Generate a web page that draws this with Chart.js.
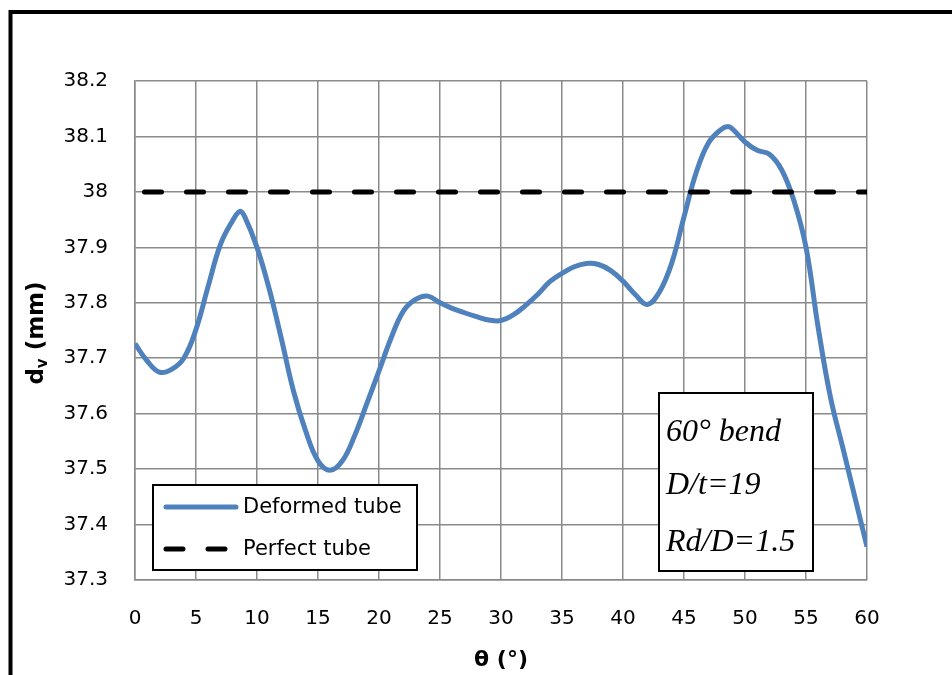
<!DOCTYPE html>
<html>
<head>
<meta charset="utf-8">
<script src="https://cdn.jsdelivr.net/npm/chart.js@4.4.1/dist/chart.umd.min.js"></script>
<style>
  body { margin: 0; background: #fff; }
  canvas { display: block; }
</style>
</head>
<body>
<canvas id="dvChart" width="952" height="675"></canvas>
<script>
// values, about one per degree
const thetaDeg = [0, 1, 2, 3, 4, 5, 6, 7, 8, 8.6, 9, 10, 11, 12, 13, 14, 15, 16, 17, 18, 19, 20,
    21, 22, 23, 24, 25, 26, 27, 28, 29, 30, 31, 32, 33, 34, 35, 36, 37, 38, 39, 40,
    41, 42, 43, 44, 45, 46, 47, 48, 48.6, 49, 50, 51, 52, 53, 54, 55, 56, 57, 58, 59, 60];
const deformedDv = [37.726, 37.695, 37.675, 37.68, 37.70, 37.752, 37.83, 37.905, 37.948, 37.965, 37.955, 37.90, 37.825, 37.735, 37.64, 37.568, 37.515, 37.498, 37.515, 37.56, 37.618, 37.677,
    37.737, 37.785, 37.806, 37.812, 37.80, 37.79, 37.782, 37.775, 37.769, 37.768, 37.778, 37.795, 37.815, 37.838, 37.853, 37.865, 37.871, 37.869, 37.858, 37.839,
    37.815, 37.797, 37.82, 37.872, 37.955, 38.035, 38.088, 38.112, 38.118, 38.113, 38.09, 38.075, 38.068, 38.04, 37.985, 37.90, 37.755, 37.63, 37.54, 37.45, 37.36];
const perfectTheta = [0, 60];
const perfectDv = [38, 38];
const xTicks = [0, 5, 10, 15, 20, 25, 30, 35, 40, 45, 50, 55, 60];
const yTicks = [37.3, 37.4, 37.5, 37.6, 37.7, 37.8, 37.9, 38, 38.1, 38.2];
const seriesNames = ['Deformed tube', 'Perfect tube'];
const noteLines = ['60\u00B0 bend', 'D/t=19', 'Rd/D=1.5'];

const toPoints = (xs, ys) => xs.map((x, i) => ({ x: x, y: ys[i] }));

const gridGrey = '#8a8a8a';

// frame, y title with subscript, legend and note box
const extrasPlugin = {
    id: 'extras',
    afterDraw: (chart) => {
        const ctx = chart.ctx;
        ctx.save();
        // outer frame (runs off the right and bottom)
        ctx.strokeStyle = '#000';
        ctx.lineWidth = 4;
        ctx.strokeRect(10.5, 12, 1000, 700);

        // y axis title: d_v (mm)
        ctx.save();
        ctx.translate(43, 333);
        ctx.rotate(-Math.PI / 2);
        ctx.fillStyle = '#000';
        ctx.textBaseline = 'alphabetic';
        const big = 'bold 23px "DejaVu Sans"';
        const small = 'bold 15px "DejaVu Sans"';
        ctx.font = big;
        const wD = ctx.measureText('d').width;
        const wRest = ctx.measureText(' (mm)').width;
        ctx.font = small;
        const wV = ctx.measureText('v').width;
        let tx = -(wD + wV + wRest) / 2;
        ctx.font = big;
        ctx.fillText('d', tx, 0);
        tx += wD;
        ctx.font = small;
        ctx.fillText('v', tx, 4);
        tx += wV;
        ctx.font = big;
        ctx.fillText(' (mm)', tx, 0);
        ctx.restore();

        // legend box
        ctx.fillStyle = '#fff';
        ctx.fillRect(153, 485, 264, 85);
        ctx.lineWidth = 2;
        ctx.strokeStyle = '#000';
        ctx.strokeRect(153, 485, 264, 85);
        const rows = [507, 549];
        chart.data.datasets.forEach((ds, i) => {
            ctx.save();
            ctx.strokeStyle = ds.borderColor;
            ctx.lineWidth = ds.borderWidth;
            ctx.lineCap = 'round';
            ctx.setLineDash(ds.borderDash || []);
            ctx.beginPath();
            ctx.moveTo(166, rows[i]);
            ctx.lineTo(236, rows[i]);
            ctx.stroke();
            ctx.restore();
            ctx.fillStyle = '#000';
            ctx.font = '21px "DejaVu Sans"';
            ctx.textBaseline = 'middle';
            ctx.fillText(ds.label, 243, rows[i] + 1);
        });

        // note box
        ctx.fillStyle = '#fff';
        ctx.fillRect(659, 393, 154, 178);
        ctx.strokeStyle = '#000';
        ctx.lineWidth = 2;
        ctx.strokeRect(659, 393, 154, 178);
        ctx.fillStyle = '#000';
        ctx.font = 'italic 32px "Liberation Serif"';
        ctx.textBaseline = 'alphabetic';
        const baselines = [441, 494, 551];
        noteLines.forEach((t, i) => ctx.fillText(t, 666, baselines[i]));
        ctx.restore();
    }
};

const ctx = document.getElementById('dvChart');
const chart = new Chart(ctx, {
    type: 'line',
    data: {
        datasets: [{
            label: seriesNames[0],
            data: toPoints(thetaDeg, deformedDv),
            borderColor: '#4F81BD',
            borderWidth: 5,
            tension: 0.4,
            pointRadius: 0,
            fill: false,
            order: 1
        }, {
            label: seriesNames[1],
            data: toPoints(perfectTheta, perfectDv),
            borderColor: '#000',
            borderWidth: 5,
            borderDash: [17, 25],
            borderDashOffset: 32.5,
            borderCapStyle: 'round',
            pointRadius: 0,
            fill: false,
            order: 0
        }]
    },
    options: {
        responsive: false,
        animation: false,
        devicePixelRatio: 1,
        layout: { padding: { top: 81, right: 85, left: 0, bottom: 0 } },
        plugins: {
            legend: { display: false },
            tooltip: { enabled: false }
        },
        scales: {
            x: {
                type: 'linear',
                min: 0,
                max: 60,
                afterFit: (scale) => { scale.height = 95; },
                afterBuildTicks: (scale) => { scale.ticks = xTicks.map(v => ({ value: v })); },
                grid: { color: gridGrey, lineWidth: 1.5, drawTicks: false },
                border: { color: gridGrey, width: 1.5 },
                ticks: {
                    padding: 27,
                    color: '#000',
                    font: { family: 'DejaVu Sans', size: 20 },
                    callback: (v) => String(v)
                },
                title: {
                    display: true,
                    text: '\u03B8 (\u00B0)',
                    color: '#000',
                    font: { family: 'DejaVu Sans', size: 22, weight: 'bold' },
                    padding: { top: 0, bottom: 2 }
                }
            },
            y: {
                min: 37.3,
                max: 38.2,
                afterFit: (scale) => { scale.width = 135; },
                afterBuildTicks: (scale) => { scale.ticks = yTicks.map(v => ({ value: v })); },
                grid: { color: gridGrey, lineWidth: 1.5, drawTicks: false },
                border: { color: gridGrey, width: 1.5 },
                ticks: {
                    padding: 27,
                    color: '#000',
                    font: { family: 'DejaVu Sans', size: 20 },
                    callback: (v) => String(Math.round(v * 10) / 10)
                }
            }
        }
    },
    plugins: [extrasPlugin]
});
</script>
</body>
</html>
